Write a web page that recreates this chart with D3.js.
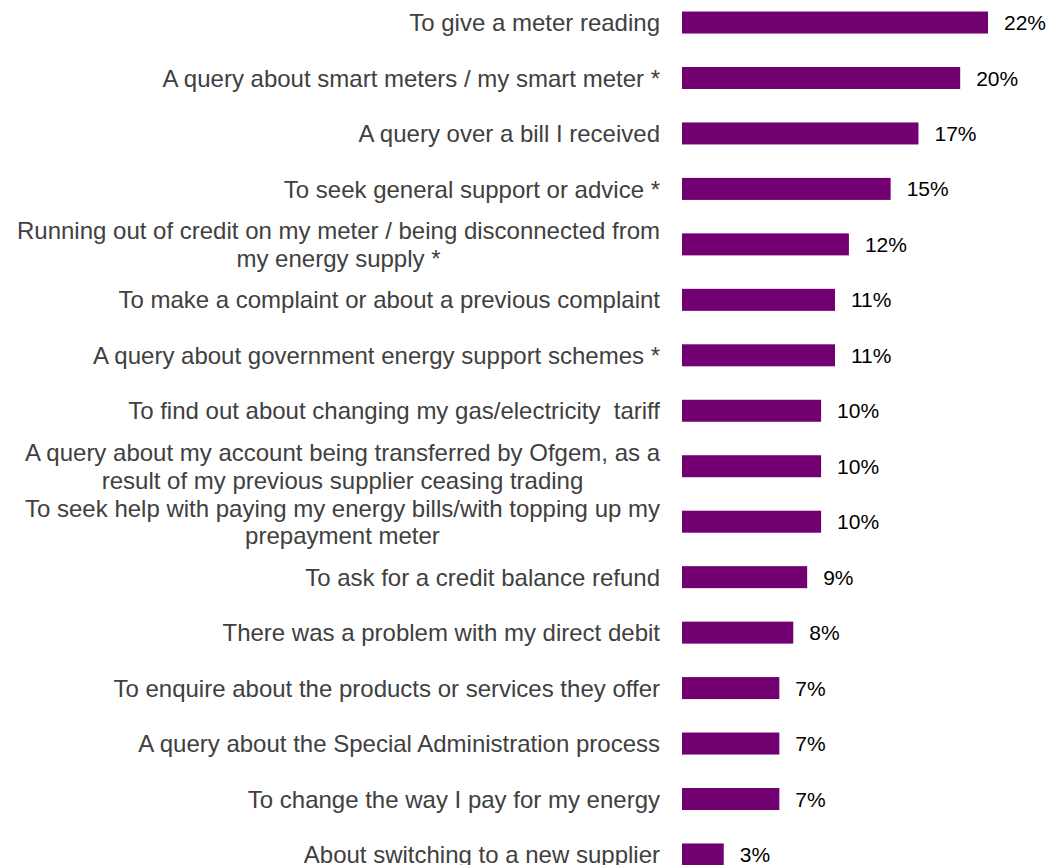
<!DOCTYPE html>
<html>
<head>
<meta charset="utf-8">
<script src="https://cdn.jsdelivr.net/npm/d3@7"></script>
<style>
  html, body { margin: 0; padding: 0; background: #ffffff; }
  svg { display: block; }
  text { font-family: "Liberation Sans", Arial, sans-serif; white-space: pre; }
</style>
</head>
<body>
<svg id="chart" width="1048" height="865"></svg>
<script>
// Reasons for contacting the energy supplier (% of respondents)
const categories = [
  "To give a meter reading",
  "A query about smart meters / my smart meter *",
  "A query over a bill I received",
  "To seek general support or advice *",
  "Running out of credit on my meter / being disconnected from\nmy energy supply *",
  "To make a complaint or about a previous complaint",
  "A query about government energy support schemes *",
  "To find out about changing my gas/electricity  tariff",
  "A query about my account being transferred by Ofgem, as a\nresult of my previous supplier ceasing trading",
  "To seek help with paying my energy bills/with topping up my\nprepayment meter",
  "To ask for a credit balance refund",
  "There was a problem with my direct debit",
  "To enquire about the products or services they offer",
  "A query about the Special Administration process",
  "To change the way I pay for my energy",
  "About switching to a new supplier"
];
const values = [22, 20, 17, 15, 12, 11, 11, 10, 10, 10, 9, 8, 7, 7, 7, 3];

const barColor = "#720070";
const svg = d3.select("#chart");

const x = d3.scaleLinear().domain([0, 22]).range([682, 988]);
const y = d3.scaleBand()
  .domain(categories)
  .range([-5.2, 882.2])
  .paddingInner(0.6)
  .paddingOuter(0.3);

const rows = categories.map((c, i) => ({ cat: c, val: values[i] }));
const mid = d => y(d.cat) + y.bandwidth() / 2;

// bars
svg.append("g").selectAll("rect")
  .data(rows)
  .join("rect")
  .attr("x", x(0))
  .attr("y", d => mid(d) - 11)
  .attr("width", d => x(d.val) - x(0))
  .attr("height", 22)
  .attr("fill", barColor);

// value labels
svg.append("g").selectAll("text")
  .data(rows)
  .join("text")
  .attr("x", d => x(d.val) + 16)
  .attr("y", mid)
  .attr("dy", "0.36em")
  .attr("font-size", 21)
  .attr("fill", "#000")
  .text(d => d.val + "%");

// category labels; wrapped ones are centred as a block, right-aligned at x = 660
const lineGap = 27.5;
const labels = svg.append("g").selectAll("text")
  .data(rows)
  .join("text")
  .attr("font-size", 24)
  .attr("fill", "#404040");

labels.each(function(d) {
  const lines = d.cat.split("\n");
  const cy = mid(d);
  const t = d3.select(this);
  lines.forEach((ln, j) => {
    t.append("tspan")
      .attr("x", 660)
      .attr("y", cy + (j - (lines.length - 1) / 2) * lineGap)
      .attr("dy", "0.36em")
      .attr("text-anchor", lines.length > 1 ? "middle" : "end")
      .text(ln);
  });
  if (lines.length > 1) {
    let maxW = 0;
    t.selectAll("tspan").each(function() { maxW = Math.max(maxW, this.getComputedTextLength()); });
    t.selectAll("tspan").attr("x", 660 - maxW / 2);
  }
});
</script>
</body>
</html>
